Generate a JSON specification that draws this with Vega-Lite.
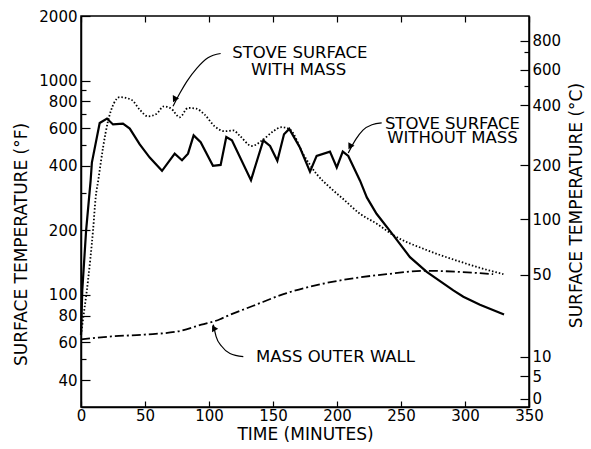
{
  "$schema": "https://vega.github.io/schema/vega-lite/v6.json",
  "width": 448,
  "height": 391,
  "autosize": {"type": "none"},
  "padding": {"left": 81, "top": 16, "right": 62, "bottom": 42},
  "background": "white",
  "config": {
    "view": {"stroke": "black", "strokeWidth": 1.5},
    "font": "DejaVu Sans",
    "axis": {
      "domainColor": "black", "domainWidth": 1.5, "tickColor": "black", "tickWidth": 1.2,
      "labelColor": "black", "titleColor": "black", "labelFont": "DejaVu Sans", "titleFont": "DejaVu Sans",
      "labelFontSize": 15, "titleFontSize": 17, "titleFontWeight": "normal", "grid": false,
      "labelOverlap": false, "labelFlush": false, "labelBound": false
    }
  },
  "datasets": {
    "curves": [
      {"s": "without", "t": 0, "f": 65}, {"s": "without", "t": 1, "f": 105}, {"s": "without", "t": 4, "f": 200},
      {"s": "without", "t": 7.5, "f": 340}, {"s": "without", "t": 8.5, "f": 414}, {"s": "without", "t": 14.6, "f": 634},
      {"s": "without", "t": 20.3, "f": 665}, {"s": "without", "t": 25, "f": 624}, {"s": "without", "t": 32.8, "f": 630},
      {"s": "without", "t": 38.1, "f": 597}, {"s": "without", "t": 45.9, "f": 504}, {"s": "without", "t": 53.7, "f": 437},
      {"s": "without", "t": 63.3, "f": 379}, {"s": "without", "t": 73.2, "f": 456}, {"s": "without", "t": 78.9, "f": 425},
      {"s": "without", "t": 83.6, "f": 456}, {"s": "without", "t": 88, "f": 555}, {"s": "without", "t": 93.5, "f": 516},
      {"s": "without", "t": 103.1, "f": 400}, {"s": "without", "t": 109.1, "f": 404}, {"s": "without", "t": 113.5, "f": 545},
      {"s": "without", "t": 117.9, "f": 526}, {"s": "without", "t": 132.8, "f": 343}, {"s": "without", "t": 142.4, "f": 526},
      {"s": "without", "t": 147.7, "f": 495}, {"s": "without", "t": 153.4, "f": 422}, {"s": "without", "t": 158.6, "f": 561},
      {"s": "without", "t": 162.7, "f": 595}, {"s": "without", "t": 171.1, "f": 486}, {"s": "without", "t": 178.9, "f": 376},
      {"s": "without", "t": 184.1, "f": 445}, {"s": "without", "t": 194.5, "f": 466}, {"s": "without", "t": 199.8, "f": 393},
      {"s": "without", "t": 204.5, "f": 466}, {"s": "without", "t": 208.8, "f": 445}, {"s": "without", "t": 218, "f": 341},
      {"s": "without", "t": 223.3, "f": 285}, {"s": "without", "t": 230.9, "f": 239}, {"s": "without", "t": 243.9, "f": 190},
      {"s": "without", "t": 257, "f": 150}, {"s": "without", "t": 270.1, "f": 128}, {"s": "without", "t": 290.9, "f": 105},
      {"s": "without", "t": 298.7, "f": 98}, {"s": "without", "t": 311.7, "f": 90}, {"s": "without", "t": 330.5, "f": 81},
      {"s": "with", "t": 0, "f": 65}, {"s": "with", "t": 1.6, "f": 77}, {"s": "with", "t": 5.5, "f": 117},
      {"s": "with", "t": 9.4, "f": 200}, {"s": "with", "t": 11.5, "f": 286}, {"s": "with", "t": 13.5, "f": 343},
      {"s": "with", "t": 17.2, "f": 486}, {"s": "with", "t": 21.1, "f": 646}, {"s": "with", "t": 25.8, "f": 785},
      {"s": "with", "t": 30.2, "f": 837}, {"s": "with", "t": 39.3, "f": 814}, {"s": "with", "t": 45.9, "f": 731},
      {"s": "with", "t": 52.3, "f": 681}, {"s": "with", "t": 58.8, "f": 698}, {"s": "with", "t": 64.8, "f": 758},
      {"s": "with", "t": 70.5, "f": 739}, {"s": "with", "t": 77.1, "f": 674}, {"s": "with", "t": 83.6, "f": 745},
      {"s": "with", "t": 90.1, "f": 739}, {"s": "with", "t": 96.6, "f": 693}, {"s": "with", "t": 104.4, "f": 612},
      {"s": "with", "t": 112.3, "f": 580}, {"s": "with", "t": 119, "f": 585}, {"s": "with", "t": 124.2, "f": 551},
      {"s": "with", "t": 133.4, "f": 495}, {"s": "with", "t": 142.4, "f": 531}, {"s": "with", "t": 150.2, "f": 580},
      {"s": "with", "t": 156.8, "f": 606}, {"s": "with", "t": 163.3, "f": 591}, {"s": "with", "t": 173.7, "f": 453},
      {"s": "with", "t": 184.1, "f": 366}, {"s": "with", "t": 194.5, "f": 317}, {"s": "with", "t": 204.9, "f": 280},
      {"s": "with", "t": 218, "f": 239}, {"s": "with", "t": 231, "f": 215}, {"s": "with", "t": 244, "f": 190},
      {"s": "with", "t": 270, "f": 162}, {"s": "with", "t": 296, "f": 143}, {"s": "with", "t": 317, "f": 131},
      {"s": "with", "t": 330, "f": 125},
      {"s": "wall", "t": 0, "f": 62}, {"s": "wall", "t": 23.7, "f": 64}, {"s": "wall", "t": 49.7, "f": 65.3},
      {"s": "wall", "t": 75.8, "f": 67.6}, {"s": "wall", "t": 94, "f": 72.6}, {"s": "wall", "t": 108.6, "f": 77},
      {"s": "wall", "t": 113.5, "f": 79.4}, {"s": "wall", "t": 134.6, "f": 89}, {"s": "wall", "t": 160.7, "f": 102},
      {"s": "wall", "t": 186.7, "f": 112}, {"s": "wall", "t": 212.7, "f": 119.5}, {"s": "wall", "t": 238.8, "f": 125},
      {"s": "wall", "t": 270, "f": 129.6}, {"s": "wall", "t": 296, "f": 128}, {"s": "wall", "t": 322, "f": 125}
    ],
    "arrows": [
      {"a": "with", "t": 71.9, "f": 758}, {"a": "with", "t": 77.3, "f": 874}, {"a": "with", "t": 82.6, "f": 989},
      {"a": "with", "t": 90.4, "f": 1140}, {"a": "with", "t": 99.2, "f": 1277}, {"a": "with", "t": 109.1, "f": 1337},
      {"a": "without", "t": 208.8, "f": 459}, {"a": "without", "t": 214.8, "f": 533}, {"a": "without", "t": 220.3, "f": 587},
      {"a": "without", "t": 227.3, "f": 622}, {"a": "without", "t": 234.9, "f": 634},
      {"a": "wall", "t": 103.4, "f": 72.6}, {"a": "wall", "t": 105.5, "f": 64.1}, {"a": "wall", "t": 109.9, "f": 57.6},
      {"a": "wall", "t": 116.4, "f": 53.3}, {"a": "wall", "t": 126.8, "f": 51.5}
    ],
    "heads": [
      {"a": "with", "t": 73.4, "f": 824},
      {"a": "without", "t": 210.5, "f": 496},
      {"a": "wall", "t": 104, "f": 69.5}
    ],
    "labels": [
      {"label": "STOVE SURFACE", "t": 171, "f": 1340},
      {"label": "WITH MASS", "t": 170, "f": 1121},
      {"label": "STOVE SURFACE", "t": 290.2, "f": 630},
      {"label": "WITHOUT MASS", "t": 290.2, "f": 539},
      {"label": "MASS OUTER WALL", "t": 198.8, "f": 51.5}
    ]
  },
  "layer": [
    {
      "encoding": {
        "x": {
          "field": "t", "type": "quantitative",
          "scale": {"domain": [0, 350], "nice": false, "zero": false},
          "axis": {
            "orient": "bottom", "title": "TIME (MINUTES)", "values": [0, 50, 100, 150, 200, 250, 300, 350],
            "tickSize": -6, "labelPadding": 7, "titlePadding": 3
          }
        },
        "y": {
          "field": "f", "type": "quantitative",
          "scale": {"type": "log", "domain": [30, 2000], "nice": false},
          "axis": {
            "orient": "left", "title": "SURFACE TEMPERATURE (°F)",
            "values": [40, 50, 60, 80, 100, 200, 300, 400, 500, 600, 700, 800, 900, 1000, 2000],
            "format": "d",
            "labelExpr": "indexof([40,60,80,100,200,400,600,800,1000,2000], datum.value) >= 0 ? datum.label : ''",
            "tickSize": {"condition": {"test": "indexof([40,60,80,100,200,400,600,800,1000,2000], datum.value) >= 0", "value": -9}, "value": -5},
            "labelPadding": 13, "titlePadding": 8, "titleY": 228
          }
        }
      },
      "layer": [
        {
          "data": {"name": "curves"},
          "transform": [{"filter": "datum.s == 'without'"}],
          "mark": {"type": "line", "color": "black", "strokeWidth": 2.2, "interpolate": "linear"}
        },
        {
          "data": {"name": "curves"},
          "transform": [{"filter": "datum.s == 'with'"}],
          "mark": {"type": "line", "color": "black", "strokeWidth": 1.8, "strokeDash": [1.5, 2], "strokeCap": "butt", "interpolate": "monotone"}
        },
        {
          "data": {"name": "arrows"},
          "mark": {"type": "line", "color": "black", "strokeWidth": 1.2, "interpolate": "monotone"},
          "encoding": {"detail": {"field": "a", "type": "nominal"}}
        },
        {
          "data": {"name": "heads"},
          "mark": {"type": "point", "shape": "triangle", "filled": true, "color": "black", "size": 50, "opacity": 1},
          "encoding": {
            "angle": {"field": "a", "type": "nominal", "scale": {"domain": ["with", "without", "wall"], "range": [208, 211, 347]}, "legend": null}
          }
        },
        {
          "data": {"name": "labels"},
          "mark": {"type": "text", "font": "DejaVu Sans", "fontSize": 16.5, "color": "black", "align": "center", "baseline": "middle"},
          "encoding": {"text": {"field": "label", "type": "nominal"}}
        }
      ]
    },
    {
      "data": {"name": "curves"},
      "transform": [{"filter": "datum.s == 'wall'"}],
      "mark": {"type": "line", "color": "black", "strokeWidth": 1.8, "strokeDash": [9, 3, 2, 3], "interpolate": "monotone"},
      "encoding": {
        "x": {
          "field": "t", "type": "quantitative",
          "scale": {"domain": [0, 350], "nice": false, "zero": false},
          "axis": {"orient": "top", "title": null, "labels": false, "values": [0, 50, 100, 150, 200, 250, 300, 350], "tickSize": -6, "domain": false}
        },
        "y": {
          "field": "f", "type": "quantitative",
          "scale": {"type": "log", "domain": [30, 2000], "nice": false},
          "axis": {
            "orient": "right", "title": "SURFACE TEMPERATURE (°C)", "titleAngle": 270,
            "values": [32.8, 41.7, 51.6, 124, 225, 403, 766, 948, 1125, 1355, 1535],
            "labelExpr": "['0','5','10','50','100','200','400','','600','','800'][indexof([32.8,41.7,51.6,124,225,403,766,948,1125,1355,1535], datum.value)]",
            "tickSize": {"condition": {"test": "datum.value == 948 || datum.value == 1355", "value": -5}, "value": -9},
            "labelPadding": 12, "titlePadding": 25, "titleY": 189
          }
        }
      }
    }
  ],
  "resolve": {"scale": {"y": "independent"}, "axis": {"x": "independent", "y": "independent"}}
}
